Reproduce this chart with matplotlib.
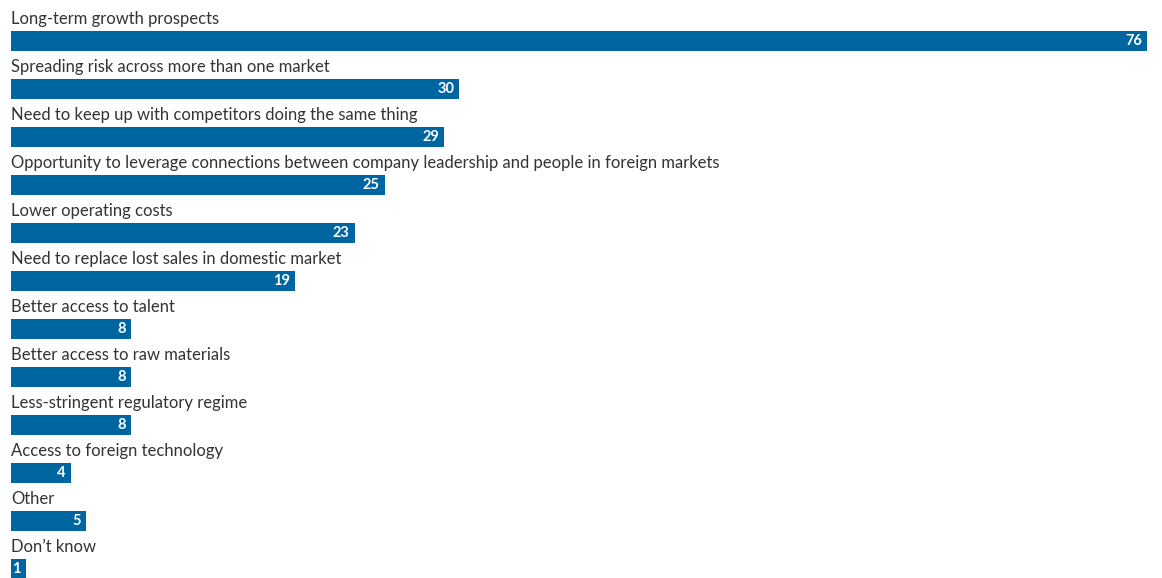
import numpy as np
import matplotlib
matplotlib.use("Agg")
import matplotlib.pyplot as plt

# survey answers, top to bottom
categories = [
    "Long-term growth prospects",
    "Spreading risk across more than one market",
    "Need to keep up with competitors doing the same thing",
    "Opportunity to leverage connections between company leadership and people in foreign markets",
    "Lower operating costs",
    "Need to replace lost sales in domestic market",
    "Better access to talent",
    "Better access to raw materials",
    "Less-stringent regulatory regime",
    "Access to foreign technology",
    "Other",
    "Don\u2019t know",
]
values = [76, 30, 29, 25, 23, 19, 8, 8, 8, 4, 5, 1]

bar_color = "#0066a2"
text_color = "#333333"

plt.rcParams['font.family'] = ['Lato', 'DejaVu Sans']

W, H = 1162, 578
fig = plt.figure(figsize=(W / 100, H / 100), dpi=100)
left_px, right_px = 11, 1147
ax = fig.add_axes([left_px / W, 0, (right_px - left_px) / W, 1])

# rows are 48px apart, first bar centre at 41px
row_px = 48
ax.set_xlim(0, max(values))
ax.set_ylim((H - 41) / row_px, -41 / row_px)

y = np.arange(len(categories))
ax.barh(y, values, height=20 / row_px, color=bar_color, align="center")

for i, (cat, val) in enumerate(zip(categories, values)):
    ax.text(0, i - 16.5 / row_px, cat, ha="left", va="baseline",
            fontsize=12, color=text_color,
            transform=ax.transData)
    ax.annotate(str(val), xy=(val, i), xytext=(-5, 0), textcoords="offset pixels",
                ha="right", va="center", color="white", fontsize=10.5, fontweight="bold")

ax.axis("off")
fig.savefig("out.png", dpi=100)
